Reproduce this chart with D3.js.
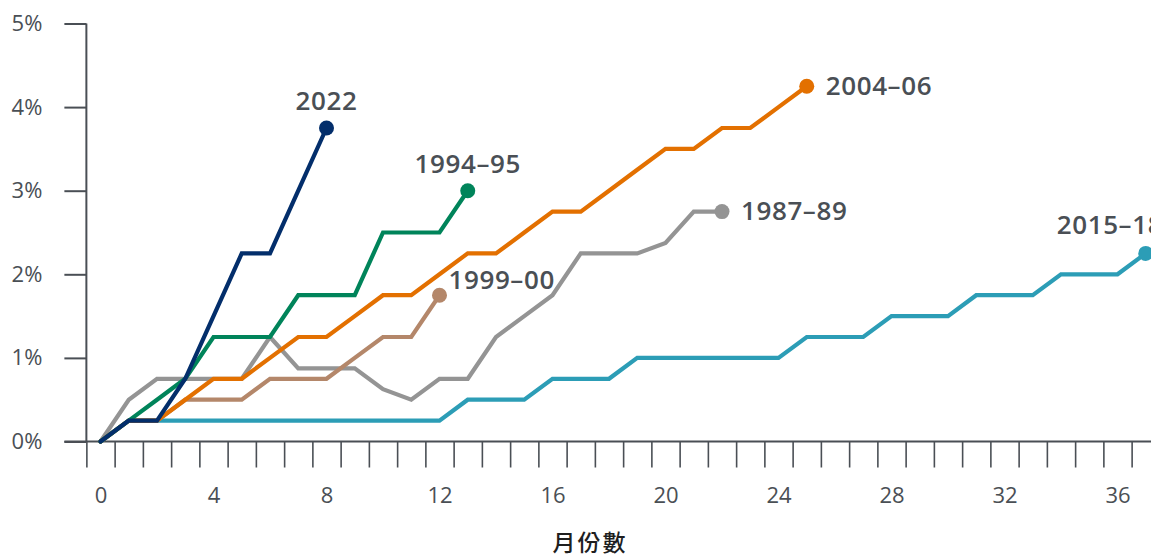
<!DOCTYPE html>
<html>
<head>
<meta charset="utf-8">
<script src="https://cdn.jsdelivr.net/npm/d3@7"></script>
<style>
  html, body { margin: 0; padding: 0; background: #ffffff; }
  svg { display: block; }
</style>
</head>
<body>
<svg id="chart" width="1151" height="557"></svg>
<script>
// ---- data ----
const monthTicks = [0, 4, 8, 12, 16, 20, 24, 28, 32, 36];
const pctTicks = [0, 1, 2, 3, 4, 5];
const seriesNames = ["2015–18", "1987–89", "1999–00", "2004–06", "1994–95", "2022"];
const v2015 = [0, 0.25, 0.25, 0.25, 0.25, 0.25, 0.25, 0.25, 0.25, 0.25, 0.25, 0.25, 0.25, 0.5, 0.5, 0.5, 0.75, 0.75, 0.75, 1.0, 1.0, 1.0, 1.0, 1.0, 1.0, 1.25, 1.25, 1.25, 1.5, 1.5, 1.5, 1.75, 1.75, 1.75, 2.0, 2.0, 2.0, 2.25];
const v1987 = [0, 0.5, 0.75, 0.75, 0.75, 0.75, 1.25, 0.875, 0.875, 0.875, 0.625, 0.5, 0.75, 0.75, 1.25, 1.5, 1.75, 2.25, 2.25, 2.25, 2.375, 2.75, 2.75];
const v1999 = [0, 0.25, 0.25, 0.5, 0.5, 0.5, 0.75, 0.75, 0.75, 1.0, 1.25, 1.25, 1.75];
const v2004 = [0, 0.25, 0.25, 0.5, 0.75, 0.75, 1.0, 1.25, 1.25, 1.5, 1.75, 1.75, 2.0, 2.25, 2.25, 2.5, 2.75, 2.75, 3.0, 3.25, 3.5, 3.5, 3.75, 3.75, 4.0, 4.25];
const v1994 = [0, 0.25, 0.5, 0.75, 1.25, 1.25, 1.25, 1.75, 1.75, 1.75, 2.5, 2.5, 2.5, 3.0];
const v2022 = [0, 0.25, 0.25, 0.75, 1.5, 2.25, 2.25, 3.0, 3.75];
const seriesValues = [v2015, v1987, v1999, v2004, v1994, v2022];

// ---- styles ----
const colors = ["#2c9db6", "#949494", "#b4876a", "#e37000", "#00845a", "#032e6b"];
const labelStyle = [
  { anchor: "start", dx: -89, dy: -19 },
  { anchor: "start", dx: 19, dy: 8 },
  { anchor: "start", dx: 9, dy: -6 },
  { anchor: "start", dx: 19, dy: 9 },
  { anchor: "middle", dx: 0, dy: -18 },
  { anchor: "middle", dx: 0, dy: -18 }
];
const axisColor = "#4a4f55";
const textColor = "#4a4f55";
const numFont = "'Open Sans', 'Noto Sans', sans-serif";

const svg = d3.select("#chart");
const W = 1151;

// month m is centred in its band; y axis sits at left edge of band 0
const x = d3.scaleLinear().domain([0, 37]).range([100.5, 1145.75]);
const y = d3.scaleLinear().domain([0, 5]).range([441.5, 23.5]);

// ---- y axis ----
const yAxis = d3.axisLeft(y)
  .tickValues(pctTicks)
  .tickSize(22)
  .tickSizeOuter(0)
  .tickPadding(22)
  .tickFormat(d => d + "%");
const gy = svg.append("g")
  .attr("transform", `translate(${x(-0.5)},0)`)
  .call(yAxis);
gy.select(".domain").remove();
gy.selectAll(".tick line").attr("stroke", axisColor).attr("stroke-width", 2);
gy.selectAll(".tick text")
  .attr("fill", textColor)
  .style("font-family", numFont)
  .style("font-size", "22px");
svg.append("line")
  .attr("x1", x(-0.5)).attr("x2", x(-0.5))
  .attr("y1", y(5)).attr("y2", y(0))
  .attr("stroke", axisColor).attr("stroke-width", 2);

// ---- x axis ----
const boundaries = d3.range(0, 40).map(i => i - 0.5);
const xTicks = d3.axisBottom(x)
  .tickValues(boundaries)
  .tickSize(26)
  .tickSizeOuter(0)
  .tickFormat("");
const gx = svg.append("g")
  .attr("transform", `translate(0,${y(0)})`)
  .call(xTicks);
gx.select(".domain").remove();
gx.selectAll(".tick line").attr("stroke", axisColor).attr("stroke-width", 1.6);

const xLabels = d3.axisBottom(x)
  .tickValues(monthTicks)
  .tickSize(0)
  .tickPadding(46)
  .tickFormat(d => d);
const gxl = svg.append("g")
  .attr("transform", `translate(0,${y(0)})`)
  .call(xLabels);
gxl.select(".domain").remove();
gxl.selectAll(".tick text")
  .attr("fill", textColor)
  .style("font-family", numFont)
  .style("font-size", "22px");

svg.append("line")
  .attr("x1", x(-0.5) - 22).attr("x2", W + 10)
  .attr("y1", y(0)).attr("y2", y(0))
  .attr("stroke", axisColor).attr("stroke-width", 2);

// axis title
svg.append("text")
  .attr("x", 590).attr("y", 551)
  .attr("text-anchor", "middle")
  .attr("fill", "#1e1e1e")
  .style("font-family", "'Noto Sans CJK TC', 'Noto Sans CJK SC', sans-serif")
  .style("font-size", "23px")
  .style("letter-spacing", "2px")
  .style("font-weight", 500)
  .text("月份數");

// ---- lines ----
const line = d3.line()
  .x((d, i) => x(i))
  .y(d => y(d));

seriesValues.forEach((vals, k) => {
  const g = svg.append("g");
  g.append("path")
    .datum(vals)
    .attr("d", line)
    .attr("fill", "none")
    .attr("stroke", colors[k])
    .attr("stroke-width", 4.2)
    .attr("stroke-linejoin", "miter")
    .attr("stroke-linecap", "round");
  const last = vals.length - 1;
  g.append("circle")
    .attr("cx", x(last)).attr("cy", y(vals[last]))
    .attr("r", 7.5)
    .attr("fill", colors[k]);
  const ls = labelStyle[k];
  g.append("text")
    .attr("x", x(last) + ls.dx)
    .attr("y", y(vals[last]) + ls.dy)
    .attr("text-anchor", ls.anchor)
    .attr("fill", textColor)
    .style("font-family", numFont)
    .style("font-size", "26px")
    .style("font-weight", 600)
    .style("letter-spacing", "0.6px")
    .text(seriesNames[k]);
});
</script>
</body>
</html>
